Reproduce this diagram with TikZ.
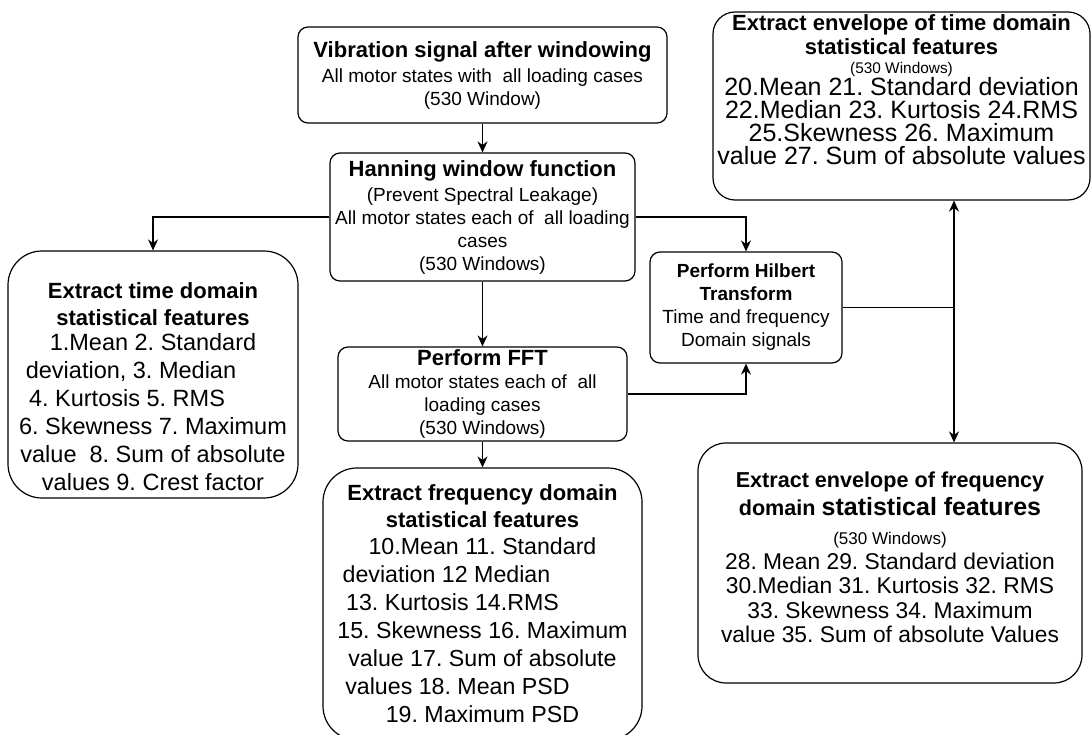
\documentclass[tikz,border=0pt]{standalone}
\usepackage{fontspec}
\setmainfont{Liberation Sans}
\usetikzlibrary{arrows.meta}

\newcommand{\fsz}[2]{\fontsize{#1}{#2}\selectfont}
\frenchspacing

\begin{document}
\begin{tikzpicture}[x=1pt,y=-1pt,line width=1.2pt]

\tikzset{box/.style={draw, rounded corners=10pt, align=center, inner sep=0pt},
%big boxes with round ends
bigbox/.style={box, rounded corners=34pt},
arr/.style={-{Stealth[length=11pt,width=10pt]}}}

\useasboundingbox (0,0) rectangle (1091,735);

\node[box, minimum width=369pt, minimum height=96pt, font=\fsz{19}{23}] (vib) at (482.5,75)
{{\bfseries\fsz{22}{23}Vibration signal after windowing}\\[2pt]
All motor states with~ all loading cases\\
(530 Window)};

\node[box, minimum width=305pt, minimum height=128pt, font=\fsz{19}{23}] (hann) at (482.5,217)
{{\bfseries\fsz{22}{23}Hanning window function}\\[2pt]
(Prevent Spectral Leakage)\\
All motor states each of~ all loading\\
cases\\
(530 Windows)};

\node[bigbox, minimum width=290pt, minimum height=247pt, font=\fsz{23.5}{28}] (timef) at (153,374.5)
{{\bfseries\fsz{22}{28}\rule{0pt}{40pt}Extract time domain}\\[-1pt]
{\bfseries\fsz{22}{28}statistical features}\\[-3pt]
1.Mean 2. Standard\\
deviation, 3. Median\rule{44pt}{0pt}\\
4. Kurtosis 5. RMS\rule{52pt}{0pt}\\
6. Skewness 7. Maximum\\
value~ 8. Sum of absolute\\
values 9. Crest factor};

\node[box, minimum width=289pt, minimum height=94pt, font=\fsz{19}{23}] (fft) at (482.5,394)
{{\bfseries\fsz{22}{23}Perform FFT}\\
All motor states each of~ all\\
loading cases\\
(530 Windows)};

\node[box, minimum width=192pt, minimum height=111pt, font=\fsz{19}{23}] (hilb) at (746,307.5)
{{\bfseries Perform Hilbert}\\
{\bfseries Transform}\\
Time and frequency\\
Domain signals};

\node[bigbox, minimum width=319pt, minimum height=272pt, font=\fsz{23.2}{28}] (freqf) at (482.5,604)
{{\bfseries\fsz{22}{28}Extract frequency domain}\\[-1pt]
{\bfseries\fsz{22}{28}statistical features}\\[-1pt]
10.Mean 11. Standard\\
deviation 12 Median\rule{72pt}{0pt}\\
13. Kurtosis 14.RMS\rule{60pt}{0pt}\\
15. Skewness 16. Maximum\\
value 17. Sum of absolute\\
values 18. Mean PSD\rule{50pt}{0pt}\\
19. Maximum PSD};

\node[box, rounded corners=22pt, minimum width=377pt, minimum height=188pt, font=\fsz{25}{23}] (envt) at (901.5,106)
{{\bfseries\fsz{22}{23}Extract envelope of time domain}\\[1pt]
{\bfseries\fsz{22}{23}statistical features}\\[-4.5pt]
{\fsz{15.4}{18}(530 Windows)}\\[-0.5pt]
20.Mean 21. Standard deviation\\
22.Median 23. Kurtosis 24.RMS\\
25.Skewness 26. Maximum\\
value 27. Sum of absolute values\rule[-32pt]{0pt}{0pt}};

\node[box, rounded corners=28pt, minimum width=384pt, minimum height=240pt, font=\fsz{22.8}{24.5}] (envf) at (890,563)
{{\bfseries\fsz{21.6}{24.5}Extract envelope of frequency}\\[3.5pt]
{\bfseries\fsz{21.6}{24.5}domain {\fsz{25}{24.5}statistical features}}\\[4.5pt]
{\fsz{17}{20}(530 Windows)}\\[0.5pt]
28. Mean 29. Standard deviation\\
30.Median 31. Kurtosis 32. RMS\\
33. Skewness 34. Maximum\\
value 35. Sum of absolute Values\rule[-12pt]{0pt}{0pt}};

\coordinate (split) at (954,307.5);

\draw[arr] (vib) -- (hann);
\draw[arr] (hann.west) -| (timef.north);
\draw[arr] (hann.east) -| (hilb.north);
\draw[arr] (hann) -- (fft);
\draw[arr] (fft.east) -| (hilb.south);
\draw[arr] (fft) -- (freqf);
\draw (hilb.east) -- (split);
\draw[arr] (split) -- (split |- envt.south);
\draw[arr] (split) -- (split |- envf.north);

\end{tikzpicture}
\end{document}
